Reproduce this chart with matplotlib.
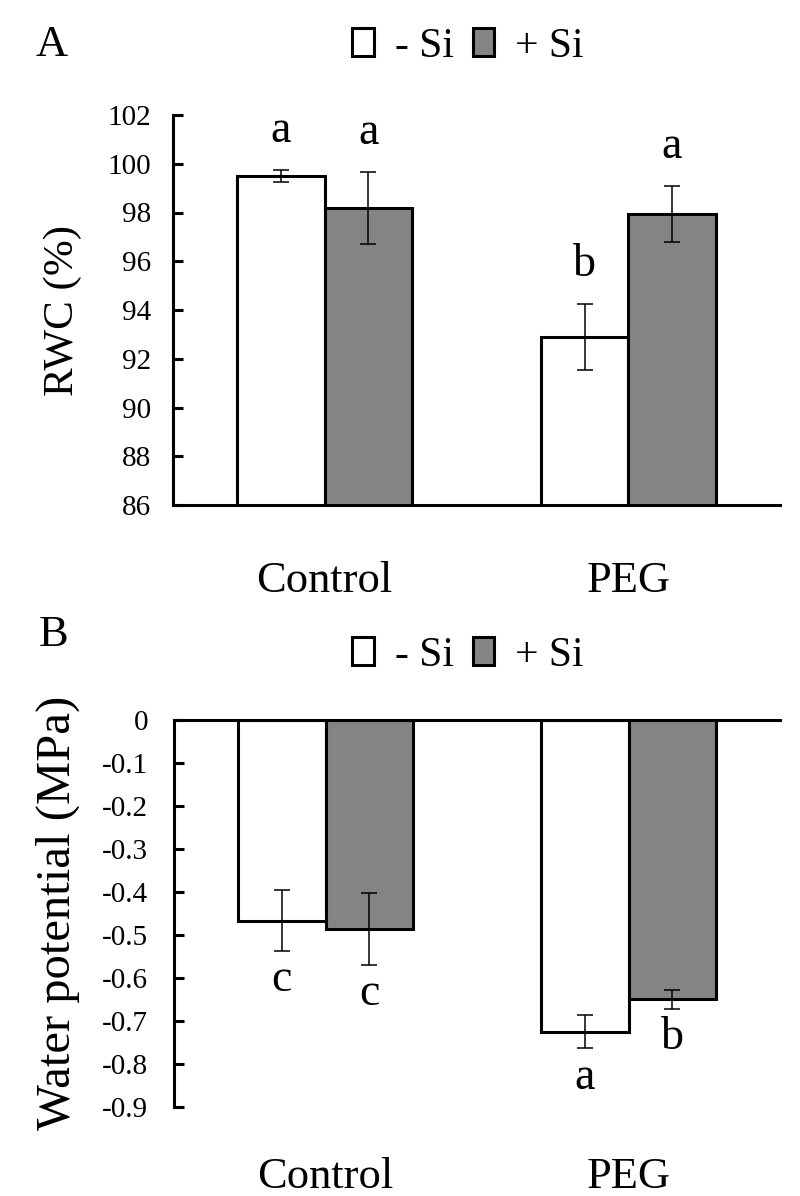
import numpy as np
import matplotlib
matplotlib.use("Agg")
import matplotlib.pyplot as plt

plt.rcParams['font.family'] = ['Liberation Serif', 'DejaVu Serif']
plt.rcParams['axes.unicode_minus'] = False

# datos
grupos = ['Control', 'PEG']
series = ['- Si', '+ Si']

rwc_menos = [99.5, 92.9]
rwc_menos_err = [0.25, 1.35]
rwc_mas = [98.2, 97.95]
rwc_mas_err = [1.48, 1.14]
rwc_letras_menos = ['a', 'b']
rwc_letras_mas = ['a', 'a']

wp_menos = [-0.467, -0.725]
wp_menos_err = [0.07, 0.039]
wp_mas = [-0.486, -0.65]
wp_mas_err = [0.084, 0.022]
wp_letras_menos = ['c', 'a']
wp_letras_mas = ['c', 'b']

gris = '#848484'
w = 0.288
lw = 2.2

fig = plt.figure(figsize=(8, 11.96), dpi=100)
axA = fig.add_axes([173/800, (1196-505)/1196, 607/800, 390/1196])
axB = fig.add_axes([174/800, (1196-1107)/1196, 606/800, (1107-719.6)/1196])

x = np.arange(len(grupos))
ekw = dict(elinewidth=1.1, capthick=1.1, ecolor='black')


def barras(ax, menos, menos_err, mas, mas_err):
    b1 = ax.bar(x - w/2, menos, w, color='white', edgecolor='black', linewidth=lw,
                yerr=menos_err, capsize=5.5, error_kw=ekw, label=series[0], zorder=2)
    b2 = ax.bar(x + w/2, mas, w, color=gris, edgecolor='black', linewidth=lw,
                yerr=mas_err, capsize=5.5, error_kw=ekw, label=series[1], zorder=2)
    return b1, b2


def leyenda(ax, handles, y):
    ax.legend(handles=handles, loc='center', bbox_to_anchor=(0.585, y), bbox_transform=fig.transFigure,
              ncol=2, frameon=False, fontsize=30, handlelength=0.52, handleheight=0.65,
              handletextpad=0.5, columnspacing=0.45)


# ---- panel A ----
b1, b2 = barras(axA, rwc_menos, rwc_menos_err, rwc_mas, rwc_mas_err)
axA.set_xlim(-0.5, 1.5)
axA.set_ylim(86, 102)
axA.set_yticks(np.arange(86, 103, 2))
axA.set_xticks(x, grupos)
axA.spines[['top', 'right']].set_visible(False)
axA.spines['left'].set_linewidth(lw)
axA.spines['bottom'].set_linewidth(lw)
axA.tick_params(axis='y', direction='in', length=7, width=lw, labelsize=21, pad=16)
axA.tick_params(axis='x', length=0, labelsize=32, pad=40)
axA.set_ylabel('RWC (%)', fontsize=31)
axA.yaxis.set_label_coords(-0.15, 0.5)

for i in range(len(grupos)):
    axA.annotate(rwc_letras_menos[i], (x[i] - w/2, rwc_menos[i] + rwc_menos_err[i]),
                 xytext=(0, 20), textcoords='offset points', ha='center', va='baseline', fontsize=33)
    axA.annotate(rwc_letras_mas[i], (x[i] + w/2, rwc_mas[i] + rwc_mas_err[i]),
                 xytext=(0, 20), textcoords='offset points', ha='center', va='baseline', fontsize=33)

leyenda(axA, [b1, b2], 0.961)

# ---- panel B ----
c1, c2 = barras(axB, wp_menos, wp_menos_err, wp_mas, wp_mas_err)
axB.set_xlim(-0.5, 1.5)
axB.set_ylim(-0.9, 0)
ticks_b = np.round(np.arange(-0.9, 0.01, 0.1), 1)
axB.set_yticks(ticks_b, ['0' if t == 0 else f'{t:.1f}' for t in ticks_b])
axB.set_xticks(x, grupos)
axB.spines[['bottom', 'right']].set_visible(False)
axB.spines['left'].set_linewidth(lw)
axB.spines['top'].set_linewidth(lw)
axB.tick_params(axis='y', direction='in', length=7, width=lw, labelsize=21, pad=18.5)
axB.tick_params(axis='x', length=0, labelsize=32, pad=36)
axB.set_ylabel('Water potential (MPa)', fontsize=35)
axB.yaxis.set_label_coords(-0.155, 0.5)

for i in range(len(grupos)):
    axB.annotate(wp_letras_menos[i], (x[i] - w/2, wp_menos[i] - wp_menos_err[i]),
                 xytext=(0, -29), textcoords='offset points', ha='center', va='baseline', fontsize=33)
    axB.annotate(wp_letras_mas[i], (x[i] + w/2, wp_mas[i] - wp_mas_err[i]),
                 xytext=(0, -29), textcoords='offset points', ha='center', va='baseline', fontsize=33)

leyenda(axB, [c1, c2], 0.452)

fig.text(0.065, 0.962, 'A', fontsize=32, ha='center', va='center')
fig.text(0.067, 0.469, 'B', fontsize=32, ha='center', va='center')

fig.savefig('out.png', dpi=100)
